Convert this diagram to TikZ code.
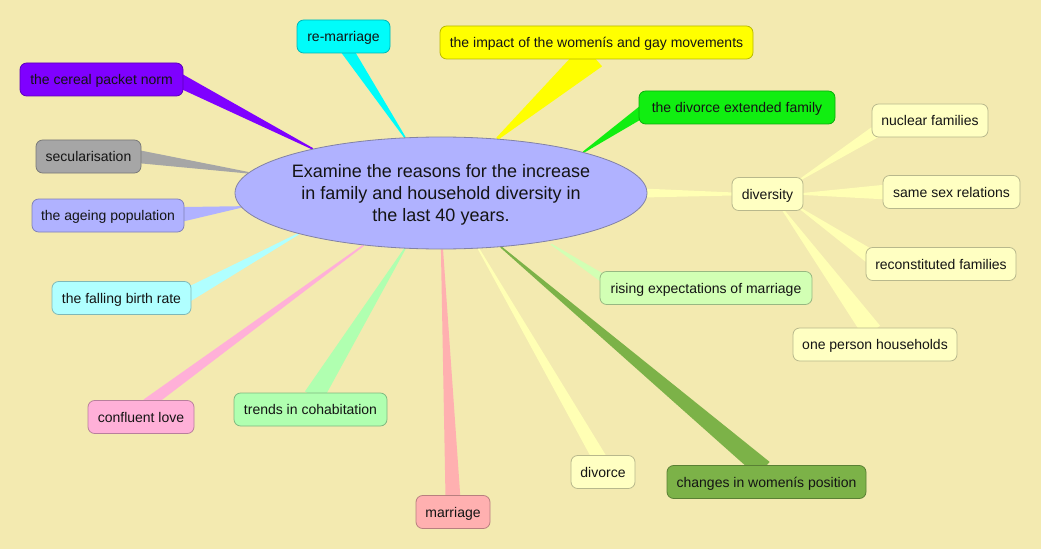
\documentclass[tikz,border=0pt]{standalone}
\usepackage{fontspec}
\setmainfont{Liberation Sans}
\usetikzlibrary{calc,shapes.geometric}
\pgfdeclarelayer{bg}
\pgfsetlayers{bg,main}
\definecolor{bgC}{RGB}{243,234,176}
\definecolor{ellC}{RGB}{176,178,255}
\definecolor{ellB}{RGB}{130,130,165}
\definecolor{cyanC}{RGB}{0,252,250}
\definecolor{purpleC}{RGB}{127,0,255}
\definecolor{grayC}{RGB}{166,166,166}
\definecolor{ageC}{RGB}{176,178,255}
\definecolor{yellowC}{RGB}{255,255,0}
\definecolor{greenC}{RGB}{17,238,17}
\definecolor{paleC}{RGB}{255,255,194}
\definecolor{paleW}{RGB}{255,255,180}
\definecolor{risingC}{RGB}{210,255,180}
\definecolor{fallC}{RGB}{176,255,255}
\definecolor{pinkC}{RGB}{255,176,216}
\definecolor{trendC}{RGB}{176,255,176}
\definecolor{marrC}{RGB}{255,176,176}
\definecolor{changesC}{RGB}{124,178,72}
\definecolor{txtC}{RGB}{20,20,20}
\newcommand\taper[5]{\fill[#1] ($(#2)!#4!90:(#3)$) -- ($(#2)!#4!-90:(#3)$) -- ($(#3)!#5!90:(#2)$) -- ($(#3)!#5!-90:(#2)$) -- cycle;}
\tikzset{
  box/.style={rounded corners=5pt, minimum height=24.75pt, inner sep=0pt,
    fill=#1, draw=#1!72!black, line width=0.6pt, text=txtC,
    text height=7.8pt, text depth=0pt,
    font=\fontsize{10.5}{12}\selectfont},
}
\begin{document}
\begin{tikzpicture}[x=0.75pt,y=-0.75pt]
\useasboundingbox (0,0) rectangle (1041,549);
% central idea
\node[ellipse, fill=ellC, draw=ellB, line width=0.6pt, minimum width=309pt, minimum height=84pt, inner sep=0pt] (main) at (441,193) {};
\node[align=center, text=txtC, font=\fontsize{13.5}{16.5}\selectfont] (maintext) at (441,195) {Examine the reasons for the increase\\in family and household diversity in\\the last 40 years.};
% topics
\node[box=cyanC, minimum width=69.75pt] (remarriage) at (343.5,36.5) {re-marriage};
\node[box=purpleC, minimum width=122.25pt] (cereal) at (101.5,79.5) {the cereal packet norm};
\node[box=grayC, minimum width=78.75pt] (secular) at (88.5,156.5) {secularisation};
\node[box=ageC, minimum width=114pt] (ageing) at (108,215.5) {the ageing population};
\node[box=yellowC, minimum width=234.75pt] (impact) at (596.5,42.5) {the impact of the womenís and gay movements};
\node[box=greenC, minimum width=147pt] (divext) at (737,107.5) {the divorce extended family};
\node[box=paleC, minimum width=87pt] (nuclear) at (930,120.5) {nuclear families};
\node[box=paleC, minimum width=53.25pt] (diversity) at (767.5,194) {diversity};
\node[box=paleC, minimum width=102.75pt] (samesex) at (951.5,192) {same sex relations};
\node[box=paleC, minimum width=112.5pt] (recon) at (941,264) {reconstituted families};
\node[box=paleC, minimum width=123pt] (oneperson) at (875,344.5) {one person households};
\node[box=risingC, minimum width=159pt] (rising) at (706,288) {rising expectations of marriage};
\node[box=fallC, minimum width=104.25pt] (falling) at (121.5,298) {the falling birth rate};
\node[box=pinkC, minimum width=79.5pt] (confluent) at (141,417) {confluent love};
\node[box=trendC, minimum width=114.75pt] (trends) at (310.5,409.5) {trends in cohabitation};
\node[box=marrC, minimum width=55.5pt] (marriage) at (453,512) {marriage};
\node[box=paleC, minimum width=48pt] (divorce) at (603,472) {divorce};
\node[box=changesC, minimum width=149.25pt] (changes) at (766.5,482) {changes in womenís position};
% connector ends
\coordinate (a1) at (main.161); \coordinate (b1) at ($(cereal.east)+(-4,1)$);
\coordinate (a2) at (main.123); \coordinate (b2) at ($(remarriage.south)+(3,-4)$);
\coordinate (a3) at (main.174); \coordinate (b3) at ($(secular.east)+(-4,0)$);
\coordinate (a4) at (main.184); \coordinate (b4) at ($(ageing.east)+(-4,-1)$);
\coordinate (a5) at (main.44); \coordinate (b5) at ($(impact.south)+(-4,-4)$);
\coordinate (a6) at (main.16); \coordinate (b6) at ($(divext.west)+(4,4)$);
\coordinate (a7) at ($(main.0)+(-6,0)$); \coordinate (b7) at ($(diversity.west)+(3,0)$);
\coordinate (a8) at ($(diversity.north east)+(-4,3)$); \coordinate (b8) at ($(nuclear.south west)+(3,-5)$);
\coordinate (a9) at ($(diversity.east)+(-3,0)$); \coordinate (b9) at ($(samesex.west)+(4,0)$);
\coordinate (a10) at ($(diversity.south east)+(-4,-3)$); \coordinate (b10) at ($(recon.west)+(4,-8)$);
\coordinate (a11) at ($(diversity.south)+(14,-3)$); \coordinate (b11) at ($(oneperson.north)+(-3,4)$);
\coordinate (a12) at ($(main.-24)+(2,3)$); \coordinate (b12) at ($(rising.west)+(6,-8)$);
\coordinate (a13) at (main.196); \coordinate (b13) at ($(falling.east)+(-4,-3)$);
\coordinate (a14) at (main.214); \coordinate (b14) at ($(confluent.north)+(6,4)$);
\coordinate (a15) at (main.237); \coordinate (b15) at ($(trends.north)+(3,4)$);
\coordinate (a16) at (main.271); \coordinate (b16) at ($(marriage.north)+(0,4)$);
\coordinate (a17) at (main.304); \coordinate (b17) at ($(divorce.north)+(-3,4)$);
\coordinate (a18) at (main.318); \coordinate (b18) at ($(changes.north)+(-3,4)$);
\begin{pgfonlayer}{bg}
\fill[bgC] (0,0) rectangle (1041,549);
\taper{purpleC}{a1}{b1}{0.6pt}{5.25pt}
\taper{cyanC}{a2}{b2}{0.6pt}{4.6pt}
\taper{grayC}{a3}{b3}{0.6pt}{4.9pt}
\taper{ageC}{a4}{b4}{0.6pt}{5.6pt}
\taper{yellowC}{a5}{b5}{1pt}{10.9pt}
\taper{greenC}{a6}{b6}{0.6pt}{4.5pt}
\taper{paleW}{a7}{b7}{3.4pt}{1.1pt}
\taper{paleW}{a8}{b8}{0.6pt}{4.5pt}
\taper{paleW}{a9}{b9}{0.6pt}{5.6pt}
\taper{paleW}{a10}{b10}{0.6pt}{5.25pt}
\taper{paleW}{a11}{b11}{0.6pt}{7.5pt}
\taper{risingC}{a12}{b12}{0.5pt}{3.2pt}
\taper{fallC}{a13}{b13}{0.6pt}{5.25pt}
\taper{pinkC}{a14}{b14}{0.6pt}{4.3pt}
\taper{trendC}{a15}{b15}{0.6pt}{7.5pt}
\taper{marrC}{a16}{b16}{0.8pt}{5.6pt}
\taper{paleW}{a17}{b17}{0.6pt}{5.25pt}
\taper{changesC}{a18}{b18}{0.6pt}{7.1pt}
\end{pgfonlayer}
\end{tikzpicture}
\end{document}
